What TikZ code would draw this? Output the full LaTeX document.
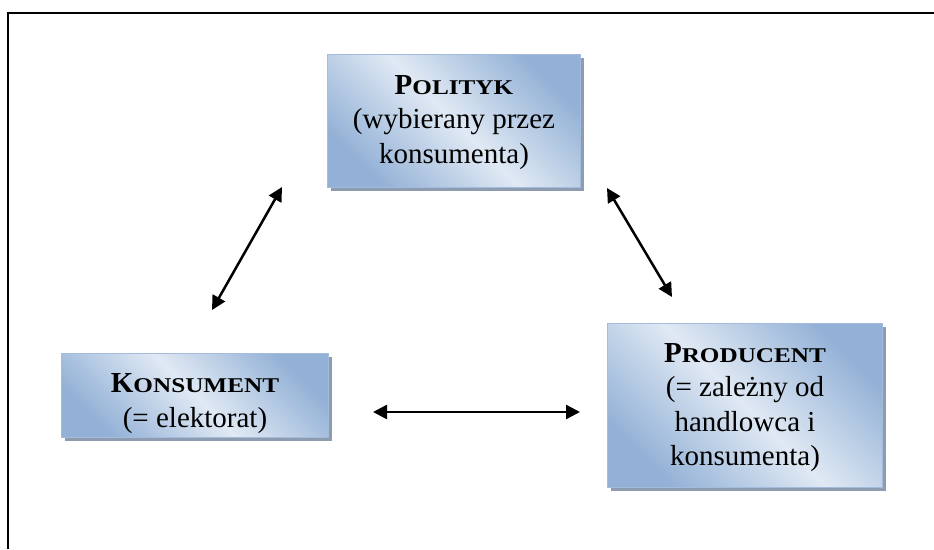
\documentclass[tikz,border=0pt]{standalone}
\usepackage{fontspec}
\setmainfont{Liberation Serif}
\usetikzlibrary{arrows.meta,shadows,calc}

\definecolor{boxdark}{HTML}{93B1D6}
\definecolor{boxlight}{HTML}{E0E9F4}
\definecolor{boxedge}{HTML}{A3BCDC}
\definecolor{boxshadow}{HTML}{8E9CB1}

% bold word with a full-size initial and widened reduced-size capitals after it
\newcommand\capsword[2]{{\bfseries #1{\fontsize{21}{34.5}\selectfont\addfontfeature{FakeStretch=1.2}#2}}}

\begin{document}
\begin{tikzpicture}[x=1pt,y=-1pt,
  entity/.style={draw=boxedge, line width=1pt, inner sep=0pt, anchor=north west,
    shading=axis, top color=boxdark, bottom color=boxdark, middle color=boxlight,
    shading angle=-45},
  shadowbox/.style={fill=boxshadow, draw=none, inner sep=0pt, anchor=north west},
  caption/.style={inner sep=0pt, align=center,
    font=\fontsize{29}{34.5}\selectfont},
  link/.style={{Triangle[length=14pt,width=14pt]}-{Triangle[length=14pt,width=14pt]},
    line width=2.5pt}]

\useasboundingbox (0,0) rectangle (934,549);

% open frame: left and top edges only
\draw[line width=2pt] (8,549) -- (8,13) -- (934,13);

% shadows behind the boxes
\node[shadowbox, minimum width=253pt, minimum height=133pt] (polsh) at (331,58) {};
\node[shadowbox, minimum width=267pt, minimum height=84pt] (konsh) at (65,357) {};
\node[shadowbox, minimum width=275pt, minimum height=164pt] (prodsh) at (611,327) {};

% boxes
\node[entity, minimum width=253pt, minimum height=133pt] (pol) at (327,54) {};
\node[entity, minimum width=267pt, minimum height=84pt] (kon) at (61,353) {};
\node[entity, minimum width=275pt, minimum height=164pt] (prod) at (607,323) {};

% box texts
\node[caption] (poltext) at ($(pol.center)+(0,1.5)$)
  {\capsword{P}{OLITYK}\\(wybierany przez\\konsumenta)};
\node[caption] (kontext) at ($(kon.center)+(0,8)$)
  {\capsword{K}{ONSUMENT}\\(= elektorat)};
\node[caption] (prodtext) at ($(prod.center)+(0,2)$)
  {\capsword{P}{RODUCENT}\\(= zależny od\\handlowca i\\konsumenta)};

% arrow ends
\coordinate (kpA) at (212,310);
\coordinate (kpB) at (282,187);
\coordinate (ppA) at (607,188);
\coordinate (ppB) at (672,297);
\coordinate (kkA) at (373,412);
\coordinate (kkB) at (580,412);

\draw[link] (kpA) -- (kpB);
\draw[link] (ppA) -- (ppB);
\draw[link] (kkA) -- (kkB);

\end{tikzpicture}
\end{document}
